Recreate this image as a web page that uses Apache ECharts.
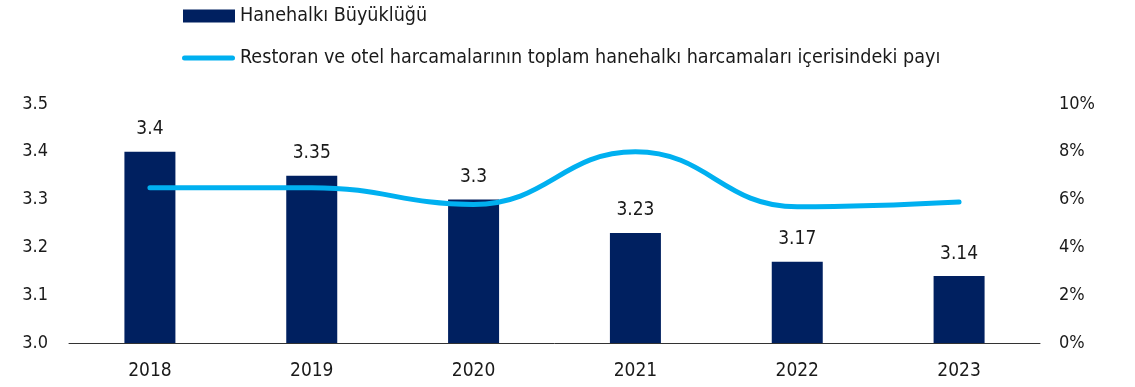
<!DOCTYPE html>
<html>
<head>
<meta charset="utf-8">
<script src="https://cdn.jsdelivr.net/npm/echarts@6/dist/echarts.min.js"></script>
<style>
  html, body { margin: 0; padding: 0; background: #fff; }
  #chart { width: 1135px; height: 387px; }
</style>
</head>
<body>
<div id="chart"></div>
<script>
// Years on the category axis
const years = ['2018', '2019', '2020', '2021', '2022', '2023'];
// Average household size (persons)
const householdSize = [3.4, 3.35, 3.3, 3.23, 3.17, 3.14];
// Share of restaurant & hotel spending in total household spending (%)
const restaurantShare = [6.5, 6.5, 5.8, 8.0, 5.7, 5.9];

const barName = 'Hanehalkı Büyüklüğü';
const lineName = 'Restoran ve otel harcamalarının toplam hanehalkı harcamaları içerisindeki payı';

const FONT = '"DejaVu Sans Condensed", "DejaVu Sans", sans-serif';
const TEXT = '#1a1a1a';
const NAVY = '#002060';
const CYAN = '#00b0f0';

const chart = echarts.init(document.getElementById('chart'), null, { renderer: 'canvas' });

chart.setOption({
  animation: false,
  textStyle: { fontFamily: FONT },
  legend: [
    {
      data: [{ name: barName, icon: 'rect' }],
      left: 183, top: 6, padding: 0,
      itemWidth: 52, itemHeight: 13, itemGap: 0,
      textStyle: { fontFamily: FONT, fontSize: 19.6, color: TEXT }
    },
    {
      data: [{ name: lineName, icon: 'path://M2.5,0 H50.5 A2.5,2.5 0 0 1 50.5,5 H2.5 A2.5,2.5 0 0 1 2.5,0 Z' }],
      left: 182, top: 48, padding: 0,
      itemWidth: 53, itemHeight: 5, itemGap: 0,
      itemStyle: { color: CYAN },
      textStyle: { fontFamily: FONT, fontSize: 19.6, color: TEXT }
    }
  ],
  grid: { left: 69, right: 95, top: 104, bottom: 44, containLabel: false },
  xAxis: {
    type: 'category',
    data: years,
    boundaryGap: true,
    axisLine: { show: true, lineStyle: { color: '#333', width: 1 } },
    axisTick: { show: false },
    axisLabel: { color: TEXT, fontSize: 19, fontFamily: FONT, margin: 19 }
  },
  yAxis: [
    {
      type: 'value',
      min: 3.0, max: 3.5, interval: 0.1,
      splitLine: { show: false },
      axisLine: { show: false },
      axisTick: { show: false },
      axisLabel: {
        color: TEXT, fontSize: 18, fontFamily: FONT, margin: 21,
        formatter: v => v.toFixed(1)
      }
    },
    {
      type: 'value',
      min: 0, max: 10, interval: 2,
      splitLine: { show: false },
      axisLine: { show: false },
      axisTick: { show: false },
      axisLabel: {
        color: TEXT, fontSize: 18, fontFamily: FONT, margin: 19,
        formatter: v => v + '%'
      }
    }
  ],
  series: [
    {
      name: barName,
      type: 'bar',
      data: householdSize,
      barWidth: 51,
      itemStyle: { color: NAVY },
      label: {
        show: true, position: 'top', distance: 13,
        color: TEXT, fontSize: 19, fontFamily: FONT,
        formatter: p => String(p.value)
      }
    },
    {
      name: lineName,
      type: 'line',
      yAxisIndex: 1,
      data: restaurantShare,
      smooth: 0.45,
      symbol: 'none',
      lineStyle: { color: CYAN, width: 5, cap: 'round' },
      itemStyle: { color: CYAN }
    }
  ]
});
</script>
</body>
</html>
